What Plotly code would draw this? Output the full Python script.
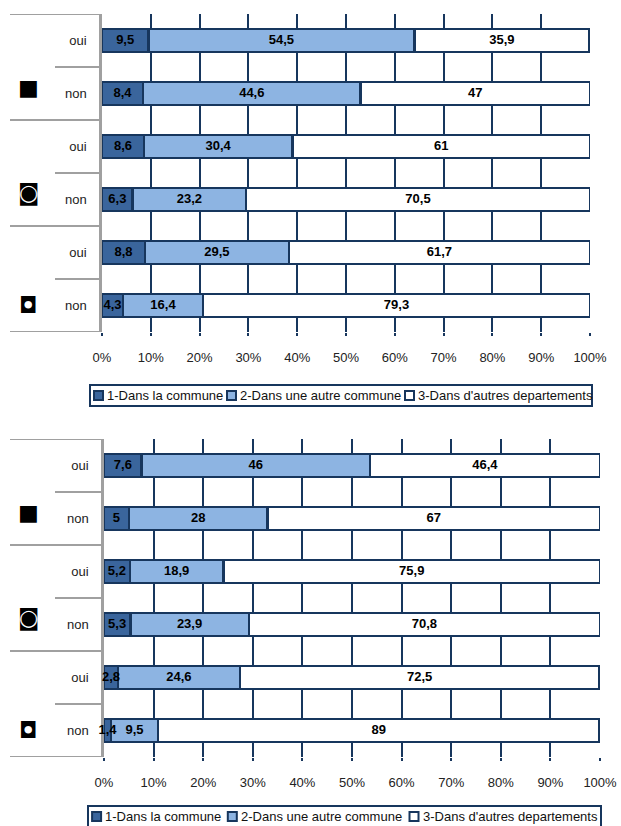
import plotly.graph_objects as go

# ---------------- data ----------------
GROUPS = ["■", "◙", "◘"]
SUBS = ["oui", "non"]
SERIES = ["1-Dans la commune", "2-Dans une autre commune", "3-Dans d'autres departements"]

# top chart (rows: g1 oui, g1 non, g2 oui, g2 non, g3 oui, g3 non)
TOP_S1 = [9.5, 8.4, 8.6, 6.3, 8.8, 4.3]
TOP_S2 = [54.5, 44.6, 30.4, 23.2, 29.5, 16.4]
TOP_S3 = [35.9, 47, 61, 70.5, 61.7, 79.3]

# bottom chart
BOT_S1 = [7.6, 5, 5.2, 5.3, 2.8, 1.4]
BOT_S2 = [46, 28, 18.9, 23.9, 24.6, 9.5]
BOT_S3 = [46.4, 67, 75.9, 70.8, 72.5, 89]

XTICKS = [0, 10, 20, 30, 40, 50, 60, 70, 80, 90, 100]
XTICKTEXT = [f"{v}%" for v in XTICKS]

# ---------------- style ----------------
W, H = 621, 826
FONT = "Liberation Sans"
COLORS = ["#3A659C", "#8DB4E2", "#FFFFFF"]
NAVY = "#17365D"
GRAY = "#A0A0A0"

rows = [f"{g}|{s}" for g in GROUPS for s in SUBS]
rowtext = [s for g in GROUPS for s in SUBS]


def fmt(v):
    return f"{v:g}".replace(".", ",")


fig = go.Figure()


def add_chart(idx, series_vals):
    xa = "x" if idx == 1 else f"x{idx}"
    ya = "y" if idx == 1 else f"y{idx}"
    for name, vals, col in zip(SERIES, series_vals, COLORS):
        fig.add_trace(go.Bar(
            y=rows, x=vals, orientation="h", name=name,
            marker=dict(color=col, line=dict(color=NAVY, width=2.5)),
            showlegend=False, hoverinfo="skip",
            xaxis=xa, yaxis=ya,
        ))
    # value labels, centred on each segment, drawn above all bars
    lx, ly, lt = [], [], []
    cum = [0.0] * len(rows)
    for vals in series_vals:
        for i, v in enumerate(vals):
            lx.append(cum[i] + v / 2)
            ly.append(rows[i])
            lt.append(fmt(v))
            cum[i] += v
    fig.add_trace(go.Scatter(
        x=lx, y=ly, text=lt, mode="text", textposition="middle center",
        textfont=dict(family=FONT, size=13, color="black", weight="bold"),
        showlegend=False, hoverinfo="skip", cliponaxis=False,
        xaxis=xa, yaxis=ya,
    ))


add_chart(1, [TOP_S1, TOP_S2, TOP_S3])
add_chart(2, [BOT_S1, BOT_S2, BOT_S3])


def px_x(p):
    return p / W


def px_y(p):
    return 1 - p / H


# plot geometry (pixels) for each chart: left, right, top, bottom
GEOM = {
    1: dict(l=102, r=590, t=14, b=332),
    2: dict(l=104, r=600, t=439, b=757),
}

layout = dict(
    width=W, height=H, margin=dict(l=0, r=0, t=0, b=0, autoexpand=False),
    paper_bgcolor="white", plot_bgcolor="white",
    barmode="stack", bargap=0.56,
    font=dict(family=FONT, size=13, color="#222222"),
)

for idx, g in GEOM.items():
    xk = "xaxis" if idx == 1 else f"xaxis{idx}"
    yk = "yaxis" if idx == 1 else f"yaxis{idx}"
    yref = "y" if idx == 1 else f"y{idx}"
    layout[xk] = dict(
        domain=[px_x(g["l"]), px_x(g["r"])], anchor=yref,
        range=[0, 100], tickvals=XTICKS, ticktext=XTICKTEXT,
        showgrid=True, gridcolor=NAVY, gridwidth=1.5, zeroline=False,
        ticks="outside", ticklen=3, tickcolor=NAVY, tickwidth=1.5,
        ticklabelstandoff=10, tickfont=dict(size=13, color="#222222"),
        showline=False, fixedrange=True, automargin=False,
    )
    layout[yk] = dict(
        domain=[px_y(g["b"]), px_y(g["t"])], anchor="x" if idx == 1 else f"x{idx}",
        type="category", categoryorder="array", categoryarray=rows,
        range=[len(rows) - 0.5, -0.5],
        tickvals=rows, ticktext=rowtext, ticks="",
        ticklabelstandoff=10, tickfont=dict(size=13, color="#222222"),
        showline=True, linecolor=GRAY, linewidth=2.5, showgrid=False,
        zeroline=False, fixedrange=True, automargin=False,
        layer="below traces",
    )

fig.update_layout(**layout)

shapes = []
annotations = []

for idx, g in GEOM.items():
    xdom = "x domain" if idx == 1 else f"x{idx} domain"
    yref = "y" if idx == 1 else f"y{idx}"
    width_px = g["r"] - g["l"]
    long_x0 = (10 - g["l"]) / width_px
    short_x0 = (55 - g["l"]) / width_px
    n = len(rows)
    for k in range(n + 1):
        pos = k - 0.5
        x0 = long_x0 if k % 2 == 0 else short_x0
        shapes.append(dict(type="line", xref=xdom, yref=yref,
                           x0=x0, x1=0, y0=pos, y1=pos,
                           line=dict(color=GRAY, width=2.2), layer="below"))
    for gi, grp in enumerate(GROUPS):
        ypos = gi * 2 + 1 - (0.12 if gi < 2 else 0.0)
        annotations.append(dict(text=f"<b>{grp}</b>", xref="paper", yref=yref,
                                x=px_x(28), y=ypos, showarrow=False,
                                xanchor="center", yanchor="middle",
                                font=dict(family="DejaVu Sans", size=22, color="black")))

# ---------------- manual legends ----------------
TEXT_W = [118, 163, 176]


def add_legend(x0, y0, x1, y1, scale=1.0):
    shapes.append(dict(type="rect", xref="paper", yref="paper",
                       x0=px_x(x0), x1=px_x(x1), y0=px_y(y1), y1=px_y(y0),
                       line=dict(color=NAVY, width=2), fillcolor="rgba(0,0,0,0)"))
    cy = (y0 + y1) / 2
    x = x0 + 4 * scale
    for name, col, tw in zip(SERIES, COLORS, TEXT_W):
        sq = 9
        shapes.append(dict(type="rect", xref="paper", yref="paper",
                           x0=px_x(x), x1=px_x(x + sq),
                           y0=px_y(cy + sq / 2), y1=px_y(cy - sq / 2),
                           line=dict(color=NAVY, width=2), fillcolor=col))
        x += sq + 2 * scale
        annotations.append(dict(text=name, xref="paper", yref="paper",
                                x=px_x(x), y=px_y(cy), xanchor="left", yanchor="middle",
                                showarrow=False,
                                font=dict(family=FONT, size=13, color="#111111")))
        x += tw * scale + 4 * scale


add_legend(90, 385, 592, 406)
add_legend(88, 806, 601, 827, scale=513 / 502)

fig.update_layout(shapes=shapes, annotations=annotations)

fig.write_html("out.html")
